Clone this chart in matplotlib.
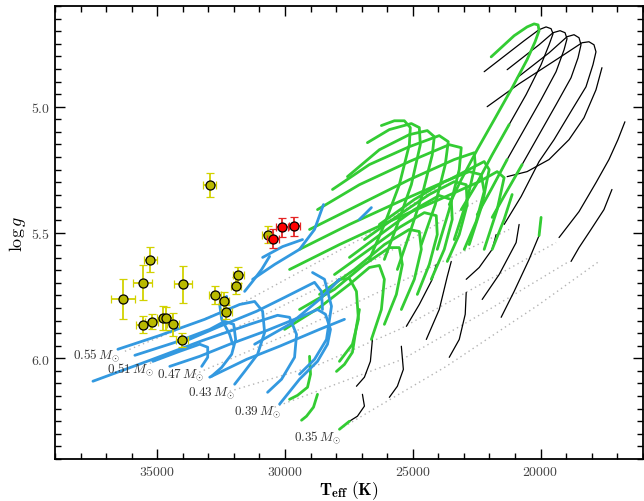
import matplotlib
matplotlib.use("Agg")
import matplotlib.pyplot as plt
from matplotlib.ticker import MultipleLocator, FuncFormatter

plt.rcParams["mathtext.fontset"] = "cm"
plt.rcParams["font.family"] = ["DejaVu Serif"]

# ---- observed stars: Teff (K), log g, errors ----
yellow_teff = [32950, 30680, 35270, 35570, 36340, 33980, 32730, 32380, 32290,
               31930, 31820, 35560, 35220, 34790, 34670, 34380, 34040]
yellow_logg = [5.310, 5.508, 5.608, 5.700, 5.764, 5.706, 5.747, 5.772, 5.815,
               5.711, 5.669, 5.866, 5.854, 5.839, 5.841, 5.865, 5.927]
yellow_teff_err = [260, 200, 260, 380, 475, 360, 230, 200, 200,
                   200, 200, 280, 250, 230, 230, 230, 230]
yellow_logg_err = [0.047, 0.035, 0.050, 0.070, 0.080, 0.074, 0.036, 0.035, 0.027,
                   0.035, 0.030, 0.035, 0.030, 0.048, 0.046, 0.045, 0.027]

red_teff = [30470, 30110, 29630]
red_logg = [5.524, 5.479, 5.475]
red_teff_err = [230, 230, 230]
red_logg_err = [0.037, 0.037, 0.037]

# ---- zero-age EHB lines (dotted) per core mass ----
zaehb_lines = [
    [(36265, 5.972), (31774, 5.786), (27086, 5.528), (23571, 5.290)],
    [(35289, 6.020), (30992, 5.837), (26305, 5.599), (22399, 5.369)],
    [(33531, 6.063), (29430, 5.885), (25524, 5.698), (21227, 5.488)],
    [(32164, 6.131), (28649, 6.024), (25524, 5.885), (19391, 5.540)],
    [(30406, 6.194), (25407, 6.004), (22009, 5.806), (18884, 5.615)],
    [(27868, 6.282), (23688, 6.032), (20056, 5.786), (17712, 5.615)],
]
mass_labels = ["0.55", "0.51", "0.47", "0.43", "0.39", "0.35"]
label_teff = [38300, 36970, 35020, 33800, 32010, 29660]
label_logg = [5.984, 6.040, 6.063, 6.135, 6.210, 6.310]

# ---- tracks with thick envelopes (black, looping at low gravity) ----
hook_tracks = [
    [(23102, 5.409), (22516, 5.310), (21891, 5.191), (21227, 5.071), (20563, 4.952),
     (19977, 4.833), (19665, 4.754), (19509, 4.710), (19587, 4.690), (19782, 4.683),
     (20056, 4.694), (20641, 4.738), (22204, 4.861)],
    [(22477, 5.429), (21931, 5.329), (21305, 5.210), (20641, 5.091), (19977, 4.972),
     (19391, 4.861), (19079, 4.774), (18962, 4.730), (19040, 4.706), (19235, 4.698),
     (19509, 4.706), (20056, 4.754), (21305, 4.853)],
    [(21891, 5.440), (21344, 5.341), (20719, 5.230), (20056, 5.111), (19391, 4.992),
     (18805, 4.885), (18532, 4.806), (18415, 4.754), (18493, 4.726), (18688, 4.714),
     (18962, 4.722), (19665, 4.786), (20915, 4.885)],
    [(21423, 5.468), (20758, 5.357), (20056, 5.218), (19470, 5.131), (18766, 5.012),
     (18220, 4.921), (17946, 4.833), (17829, 4.782), (17907, 4.754), (18103, 4.742),
     (18376, 4.746), (19274, 4.806), (20837, 4.909), (22087, 5.000)],
    [(17595, 4.845), (17829, 4.933), (18298, 5.044), (18884, 5.131), (19665, 5.210),
     (20524, 5.258), (21305, 5.278)],
    [(16697, 5.060), (16970, 5.131), (17321, 5.210), (17829, 5.302), (18493, 5.417),
     (19274, 5.520)],
    [(17204, 5.329), (17517, 5.409), (18024, 5.488), (18493, 5.560), (18805, 5.615)],
    [(19977, 5.440), (20056, 5.512), (20446, 5.607), (21032, 5.734), (21540, 5.837)],
    [(20837, 5.468), (20954, 5.540), (21618, 5.667), (22282, 5.766)],
    [(21735, 5.508), (21891, 5.567), (22399, 5.639), (22907, 5.686)],
    [(22907, 5.738), (22946, 5.825), (23180, 5.925), (23571, 5.996)],
    [(23493, 5.615), (23649, 5.675), (23962, 5.806), (24469, 5.925)],
    [(24079, 5.627), (24235, 5.686), (24743, 5.786), (25250, 5.873)],
    [(26578, 5.925), (26657, 6.012), (26891, 6.075), (27203, 6.111)],
    [(25446, 5.952), (25367, 6.044), (25602, 6.111), (25915, 6.155)],
    [(26969, 6.143), (26891, 6.190), (27164, 6.230), (27477, 6.250)],
]

# ---- intermediate envelopes (green) ----
green_tracks = [
    [(23571, 5.389), (23102, 5.290), (22477, 5.171), (21813, 5.052), (21110, 4.925),
     (20524, 4.813), (20212, 4.742), (20056, 4.698), (20095, 4.675), (20251, 4.671),
     (20524, 4.683), (21032, 4.718), (21931, 4.802)],
    [(23102, 5.409), (22516, 5.310), (21891, 5.191), (21227, 5.071)],
    [(22477, 5.429), (21931, 5.329), (21305, 5.210)],
    [(21891, 5.440), (21344, 5.341), (20719, 5.230)],
    [(19977, 5.440), (20056, 5.512)],
    [(26227, 5.075), (25719, 5.056), (25329, 5.056), (25094, 5.083), (25133, 5.151),
     (25524, 5.310), (26110, 5.468), (26696, 5.607)],
    [(26774, 5.143), (25915, 5.091), (25055, 5.067), (24743, 5.083), (24703, 5.151),
     (25055, 5.310), (25602, 5.468), (26110, 5.607)],
    [(27555, 5.278), (26305, 5.171), (25133, 5.111), (24430, 5.095), (24157, 5.119),
     (24235, 5.191), (24626, 5.349), (25133, 5.508), (25602, 5.647)],
    [(28141, 5.329), (26696, 5.230), (25133, 5.159), (23962, 5.115), (23610, 5.139),
     (23727, 5.230), (24118, 5.389), (24664, 5.548)],
    [(28727, 5.409), (27086, 5.310), (25133, 5.218), (23571, 5.151), (23102, 5.163),
     (23180, 5.250), (23571, 5.409), (24040, 5.567)],
    [(29039, 5.488), (27086, 5.389), (25133, 5.290), (23376, 5.210), (22594, 5.183),
     (22555, 5.230), (22868, 5.369), (23376, 5.528)],
    [(29430, 5.567), (27477, 5.468), (25524, 5.377), (23571, 5.290), (22204, 5.218),
     (22009, 5.250), (22282, 5.389), (22790, 5.548)],
    [(29821, 5.647), (27868, 5.548), (25915, 5.456), (23962, 5.369), (22399, 5.298),
     (21696, 5.258), (21423, 5.282), (21696, 5.409), (22204, 5.567)],
    [(28649, 5.766), (27868, 5.686), (27477, 5.683), (27203, 5.734), (27125, 5.845),
     (27360, 5.944), (27868, 6.012)],
    [(30016, 5.885), (28649, 5.798), (27477, 5.706), (26696, 5.639), (26305, 5.631),
     (26110, 5.686), (26227, 5.806), (26618, 5.925)],
    [(29430, 5.806), (28063, 5.726), (26891, 5.627), (25915, 5.560), (25524, 5.560),
     (25407, 5.627), (25641, 5.746), (26110, 5.865)],
    [(28649, 5.746), (27282, 5.647), (26110, 5.548), (25133, 5.488), (24743, 5.496),
     (24664, 5.567), (24938, 5.686), (25446, 5.806)],
    [(28063, 5.667), (26696, 5.567), (25524, 5.480), (24547, 5.421), (24079, 5.433),
     (24040, 5.508), (24352, 5.627), (24821, 5.746)],
    [(27477, 5.599), (26110, 5.496), (24938, 5.409), (23962, 5.353), (23493, 5.369),
     (23454, 5.448), (23766, 5.567), (24274, 5.686)],
    [(26891, 5.528), (25524, 5.429), (24352, 5.349), (23376, 5.298), (22907, 5.310),
     (22868, 5.389), (23180, 5.508), (23649, 5.615)],
    [(26305, 5.468), (24938, 5.369), (23766, 5.298), (22790, 5.258), (22321, 5.270),
     (22204, 5.337), (22516, 5.456), (22985, 5.567)],
    [(21110, 5.349), (21423, 5.448), (21891, 5.567)],
    [(27086, 5.806), (27203, 5.873), (27360, 5.976), (27672, 6.024), (27985, 6.052)],
    [(29039, 5.992), (29000, 6.063), (29118, 6.115), (29508, 6.147), (29821, 6.163)],
    [(28727, 6.143), (28883, 6.194), (29157, 6.230), (29352, 6.246)],
    [(27477, 6.250), (27868, 6.282)],
]

# ---- thin envelopes (blue) ----
blue_tracks = [
    [(37515, 6.091), (35289, 6.008), (33219, 5.929), (31383, 5.865), (30289, 5.829),
     (29821, 5.837), (29547, 5.905), (29625, 5.996), (30133, 6.083), (30680, 6.135)],
    [(36539, 5.964), (34898, 5.909), (33141, 5.845), (31774, 5.786), (31188, 5.774),
     (30875, 5.813), (30797, 5.897), (31071, 5.984), (31578, 6.052), (31969, 6.103)],
    [(35875, 5.988), (34313, 5.937), (32945, 5.885), (32360, 5.853), (32008, 5.865),
     (31930, 5.925), (32086, 5.984), (32477, 6.036), (32867, 6.071)],
    [(35172, 6.012), (34117, 5.972), (33336, 5.944), (33024, 5.956), (33024, 5.996),
     (33258, 6.032)],
    [(34508, 6.032), (33336, 5.992), (32164, 5.944), (30797, 5.893), (29430, 5.837),
     (28727, 5.806), (28414, 5.825), (28219, 5.885), (28336, 5.944), (28727, 6.012),
     (29430, 6.083), (30211, 6.182)],
    [(33844, 5.929), (32555, 5.873), (31110, 5.813), (30016, 5.758), (29235, 5.718),
     (28844, 5.698), (28571, 5.734), (28532, 5.806)],
    [(32945, 6.075), (31500, 6.004), (30211, 5.952), (28649, 5.885), (27672, 5.845)],
    [(28922, 5.659), (28453, 5.686), (28180, 5.793), (28375, 5.925), (28844, 6.004),
     (29430, 6.063)],
    [(31266, 5.686), (30406, 5.627), (29430, 5.567), (28844, 5.488), (28493, 5.389)],
    [(30875, 5.599), (30094, 5.556), (29313, 5.528)],
    [(27086, 5.448), (26852, 5.425), (26618, 5.401)],
    [(32282, 5.754), (32555, 5.786), (32477, 5.845), (32164, 5.905), (32047, 5.944)],
    [(30602, 5.595), (30914, 5.647), (31266, 5.694), (31578, 5.734)],
    [(31188, 5.944), (29821, 5.865), (28649, 5.766), (27868, 5.686)],
]


def draw_tracks(ax, tracks, color, lw, z):
    for track in tracks:
        teff = [p[0] for p in track]
        logg = [p[1] for p in track]
        ax.plot(teff, logg, color=color, lw=lw, solid_capstyle="round",
                solid_joinstyle="round", zorder=z)


fig = plt.figure(figsize=(6.44, 5.02), dpi=100)
ax = fig.add_axes([0.0854, 0.0837, 0.9126, 0.9023])

for line in zaehb_lines:
    ax.plot([p[0] for p in line], [p[1] for p in line], color="#b4b4b4",
            lw=1.0, ls=(0, (1, 2.5)), zorder=1)

draw_tracks(ax, hook_tracks, "black", 0.9, 2)
draw_tracks(ax, green_tracks, "#33cc33", 2.0, 3)
draw_tracks(ax, blue_tracks, "#3399e0", 2.0, 4)

for lab, t, g in zip(mass_labels, label_teff, label_logg):
    ax.text(t, g, r"$\mathbf{%s}\,M_{\odot}$" % lab, fontsize=9.5,
            color="#333333", ha="left", va="center", zorder=6)

ax.errorbar(yellow_teff, yellow_logg, xerr=yellow_teff_err, yerr=yellow_logg_err,
            fmt="o", ms=6.5, mfc="#b9b900", mec="black", mew=0.9,
            ecolor="#d2d200", elinewidth=1.3, capsize=3, capthick=1.3, zorder=7)
ax.errorbar(red_teff, red_logg, xerr=red_teff_err, yerr=red_logg_err,
            fmt="o", ms=6.5, mfc="#ff0000", mec="black", mew=0.9,
            ecolor="#e52525", elinewidth=1.3, capsize=3, capthick=1.3, zorder=8)

ax.set_xlim(39000, 16000)
ax.set_ylim(6.4, 4.6)

ax.xaxis.set_major_locator(MultipleLocator(5000))
ax.xaxis.set_minor_locator(MultipleLocator(1000))
ax.yaxis.set_major_locator(MultipleLocator(0.5))
ax.yaxis.set_minor_locator(MultipleLocator(0.05))
ax.xaxis.set_major_formatter(FuncFormatter(lambda v, p: r"$%d$" % v))
ax.yaxis.set_major_formatter(FuncFormatter(lambda v, p: r"$%.1f$" % v))
ax.tick_params(which="both", direction="in", top=True, right=True,
               labelsize=10, labelcolor="#444444", width=1.0)
ax.tick_params(which="major", length=7)
ax.tick_params(which="minor", length=4)
for s in ax.spines.values():
    s.set_linewidth(1.3)

ax.set_xlabel(r"$\mathbf{T}_{\mathbf{eff}}\ \mathbf{(K)}$", fontsize=12.5, labelpad=0)
ax.set_ylabel(r"$\log g$", fontsize=13, labelpad=2)

fig.savefig("out.png", dpi=100)
